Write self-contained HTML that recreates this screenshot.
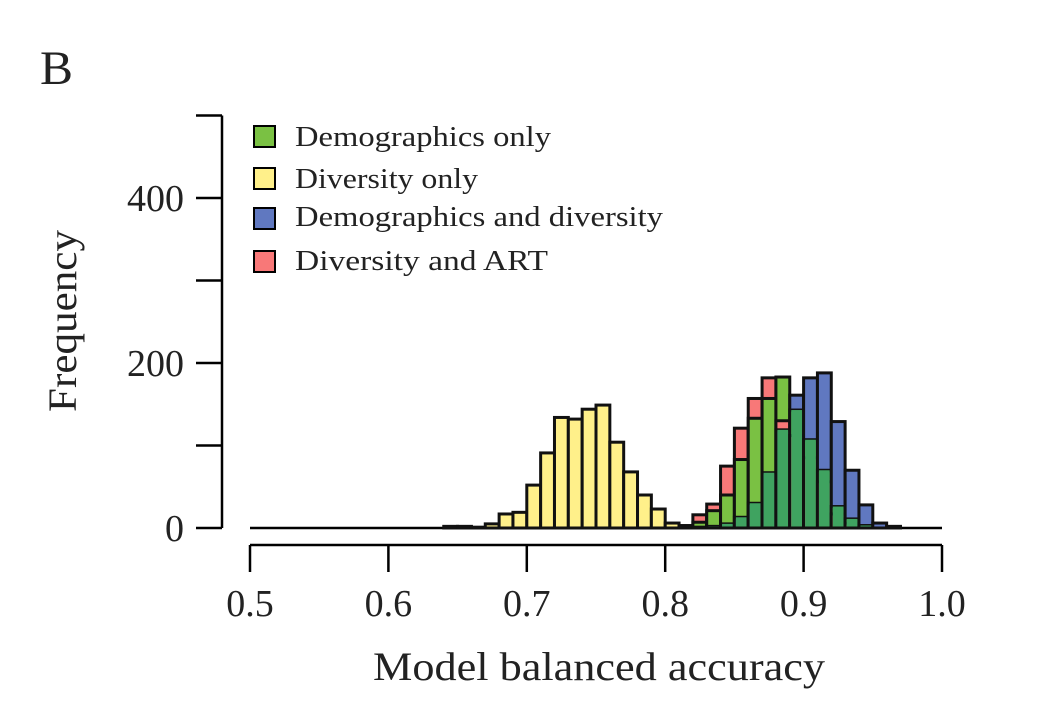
<!DOCTYPE html>
<html><head><meta charset="utf-8"><style>
body{margin:0;background:#fff}
svg text{font-family:"Liberation Serif",serif;fill:#222}
</style></head><body>
<svg id="c" width="1057" height="722">
<text x="40" y="84" font-size="48" textLength="33" lengthAdjust="spacingAndGlyphs">B</text>
<g id="bars"></g>
<g id="axes"></g>
<text x="373" y="680" font-size="40" textLength="452" lengthAdjust="spacingAndGlyphs">Model balanced accuracy</text>
<text transform="translate(76,412) rotate(-90)" font-size="40" textLength="182" lengthAdjust="spacingAndGlyphs">Frequency</text>
<g font-size="29">
<g><rect x="254" y="126" width="21" height="21" fill="#7ac143" stroke="#000" stroke-width="2"/><text x="295" y="146" textLength="256" lengthAdjust="spacingAndGlyphs">Demographics only</text></g>
<g><rect x="254" y="168" width="21" height="21" fill="#fff08a" stroke="#000" stroke-width="2"/><text x="295" y="188" textLength="183" lengthAdjust="spacingAndGlyphs">Diversity only</text></g>
<g><rect x="254" y="208" width="21" height="21" fill="#6078c0" stroke="#000" stroke-width="2"/><text x="295" y="226" textLength="368" lengthAdjust="spacingAndGlyphs">Demographics and diversity</text></g>
<g><rect x="254" y="251" width="21" height="21" fill="#f87878" stroke="#000" stroke-width="2"/><text x="295" y="270" textLength="253" lengthAdjust="spacingAndGlyphs">Diversity and ART</text></g>
</g>
</svg>
<script>
// bins start at 0.60, width 0.01
const binStart = 0.60;
const binWidth = 0.01;
const diversity   = [0,0,0,0,2,2,1,5,17,19,52,91,134,132,144,149,104,68,40,23,6,1,0,0,0,0,0,0,0,0,0,0,0,0,0,0,0,0];
const demographics= [0,0,0,0,0,0,0,0,0,0,0,0,0,0,0,0,0,0,0,0,0,2,7,21,40,83,133,157,183,143,107,70,26,11,3,0,0,0];
const demoDiv     = [0,0,0,0,0,0,0,0,0,0,0,0,0,0,0,0,0,0,0,0,0,0,1,2,5,13,30,67,119,161,182,188,129,70,28,6,2,0];
const divArt      = [0,0,0,0,0,0,0,0,0,0,0,0,0,0,0,0,0,0,0,0,0,3,16,29,75,121,157,182,130,112,85,56,17,6,1,0,0,0];
const yTicks = [0,100,200,300,400,500];
const yLabels = ["0","200","400"];
const xTicks = ["0.5","0.6","0.7","0.8","0.9","1.0"];

const X = v => 250 + (v - 0.5) * 1384;
const Y = v => 528 - v * 0.825;
const NS = "http://www.w3.org/2000/svg";
function mk(tag, attrs, parent){const e=document.createElementNS(NS,tag);for(const k in attrs)e.setAttribute(k,attrs[k]);parent.appendChild(e);return e;}
const bars = document.getElementById('bars');
const axes = document.getElementById('axes');
mk('line',{x1:250,x2:942,y1:528,y2:528,stroke:'#000','stroke-width':2.5},bars);
const series = [
 {d:diversity,c:'#fff08a',n:'diversity'},
 {d:demoDiv,c:'#6078c0',n:'demo-diversity'},
 {d:divArt,c:'#f87878',n:'diversity-art'},
 {d:demographics,c:'#7ac143',n:'demographics'}];
for(let i=0;i<diversity.length;i++){
  const x0 = X(binStart + i*binWidth), x1 = X(binStart + (i+1)*binWidth);
  const list = series.filter(s=>s.d[i]>0).sort((a,b)=>b.d[i]-a.d[i]);
  list.forEach(s=>{
    const r = mk('rect',{x:x0,y:Y(s.d[i]),width:x1-x0,height:528-Y(s.d[i]),fill:s.c,stroke:'#111','stroke-width':3},bars);
    
    
  });
  const ov = Math.min(demographics[i], demoDiv[i]);
  if(ov>0){
    const r = mk('rect',{x:x0+1.5,y:Y(ov),width:x1-x0-3,height:528-Y(ov)-1.5,fill:'#3fa360'},bars);
    
    
  }
}
// y axis
mk('line',{x1:222,x2:222,y1:Y(500),y2:Y(0),stroke:'#000','stroke-width':2.5},axes);
yTicks.forEach(t=>{mk('line',{x1:196,x2:222,y1:Y(t),y2:Y(t),stroke:'#000','stroke-width':2.5},axes);});
yLabels.forEach(l=>{
  const t = mk('text',{x:184,y:Y(+l)+13,'font-size':38,'text-anchor':'end'},axes);
  t.textContent=l;
  
  
});
// x axis
mk('line',{x1:X(0.5),x2:X(1.0),y1:545,y2:545,stroke:'#000','stroke-width':2.5},axes);
xTicks.forEach(l=>{
  mk('line',{x1:X(+l),x2:X(+l),y1:545,y2:572,stroke:'#000','stroke-width':2.5},axes);
  const t = mk('text',{x:X(+l),y:616,'font-size':38,'text-anchor':'middle'},axes);
  t.textContent=l;
  
  
});
</script>
</body></html>
